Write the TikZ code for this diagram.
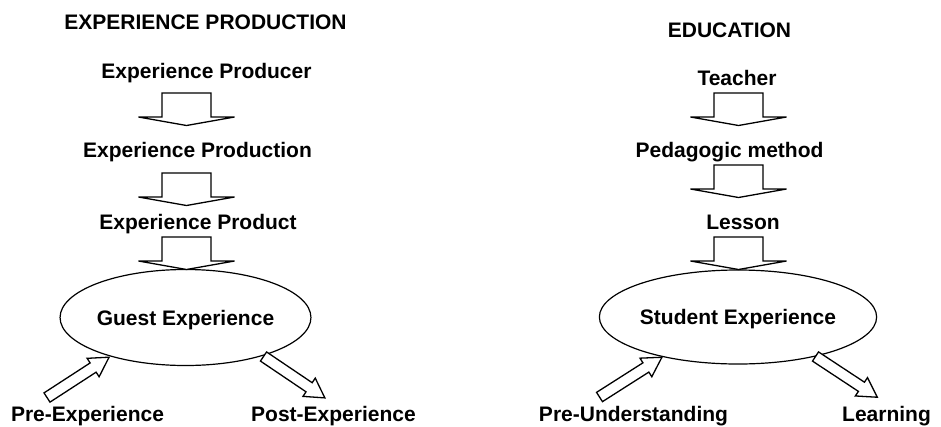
\documentclass[tikz,border=0pt]{standalone}
\usepackage{fontspec}
\setmainfont{Liberation Sans}
\usetikzlibrary{shapes.geometric}
\begin{document}
\begin{tikzpicture}[x=1pt,y=-1pt,
  lbl/.style={font=\fontsize{21}{25}\selectfont\bfseries, anchor=base, inner sep=0pt},
  outl/.style={draw=black, line width=1.3pt, fill=white},
  oval/.style={ellipse, draw=black, line width=1.2pt, fill=white, inner sep=0pt,
    font=\fontsize{21}{25}\selectfont\bfseries, text height=15pt, text depth=0pt},
  pics/downarrow/.style={code={\path[outl] (-24.5,0) -- (24.5,0) -- (24.5,24) -- (48,24) -- (0,32.5) -- (-48,24) -- (-24.5,24) -- cycle;}},
  pics/diagarrow/.style={code={\path[outl] (0,-5.5) -- (55,-5.5) -- (55,-11) -- (74,0) -- (55,11) -- (55,5.5) -- (0,5.5) -- cycle;}},
]
\useasboundingbox[fill=white] (0,0) rectangle (941,426);

% ---- Experience production ----
\node[lbl] (epTitle) at (205.5,29) {EXPERIENCE PRODUCTION};
\node[lbl] (producer) at (206.5,78) {Experience Producer};
\pic (arrA1) at (186.5,93) {downarrow};
\node[lbl] (production) at (197.5,157) {Experience Production};
\pic (arrA2) at (186.5,173) {downarrow};
\node[lbl] (product) at (198,229) {Experience Product};
\node[oval, minimum width=241pt, minimum height=96pt] (guest) at (185.5,317.5) {Guest Experience};
\pic (arrA3) at (186.5,237) {downarrow};
\pic[rotate=33] (arrA4) at (47,397.5) {diagarrow};
\pic[rotate=-34] (arrA5) at (263.5,356.5) {diagarrow};
\node[lbl] (preexp) at (87.5,421) {Pre-Experience};
\node[lbl] (postexp) at (333.5,421) {Post-Experience};

% ---- Education ----
\node[lbl] (edTitle) at (729.5,37) {EDUCATION};
\node[lbl] (teacher) at (737,85) {Teacher};
\pic (arrB1) at (738.5,93) {downarrow};
\node[lbl] (method) at (729.5,157) {Pedagogic method};
\pic (arrB2) at (738.5,165) {downarrow};
\node[lbl] (lesson) at (743,229) {Lesson};
\node[oval, minimum width=240pt, minimum height=94pt] (student) at (738,317) {Student Experience};
\pic (arrB3) at (738.5,237) {downarrow};
\pic[rotate=32.5] (arrB4) at (599.5,397) {diagarrow};
\pic[rotate=-33.4] (arrB5) at (815.5,356.5) {diagarrow};
\node[lbl] (preund) at (633.5,421) {Pre-Understanding};
\node[lbl] (learning) at (886.5,421) {Learning};
\end{tikzpicture}
\end{document}
